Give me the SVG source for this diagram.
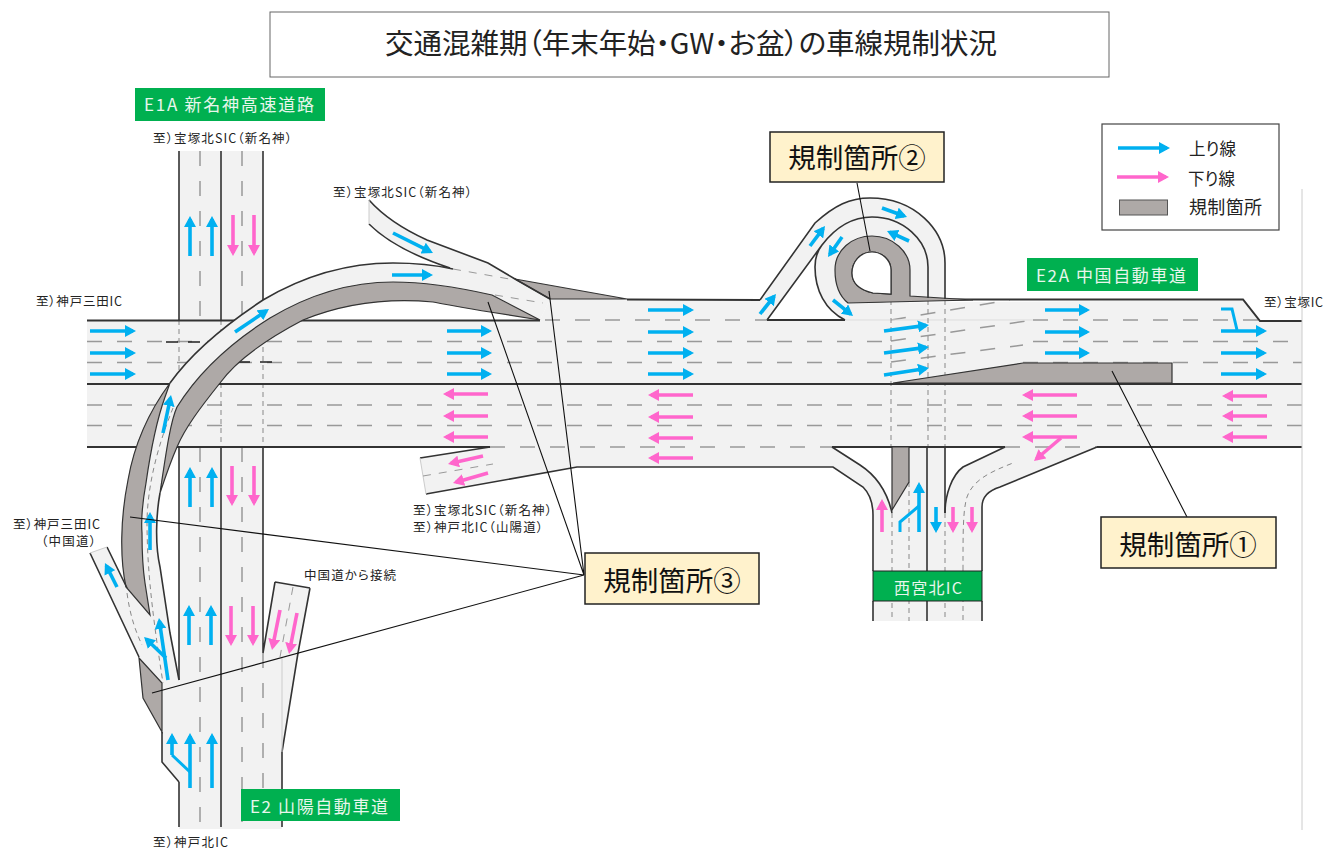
<svg xmlns="http://www.w3.org/2000/svg" width="1325" height="849" viewBox="0 0 1325 849">
<style>
text{font-family:"Noto Sans CJK JP","Noto Sans",sans-serif;fill:#222;font-feature-settings:"palt"}
.s{font-size:12.500px}
.g{font-size:17px;fill:#e8f6ec}
.k{font-size:27.500px;fill:#111;text-anchor:middle}
.rd{fill:#f2f2f2;stroke:none}
.e{fill:none;stroke:#333;stroke-width:1.6}
.m{fill:none;stroke:#333;stroke-width:2}
.d{fill:none;stroke:#999;stroke-width:1.5;stroke-dasharray:15 15}
.t{fill:none;stroke:#888;stroke-width:1;stroke-dasharray:5 4}
.b{fill:none;stroke:#222;stroke-width:1.5;stroke-dasharray:12 10}
.r{fill:#aea9a7;stroke:#333;stroke-width:1.2}
.c{fill:none;stroke:#00b0f0;stroke-width:3.6;marker-end:url(#hc)}
.p{fill:none;stroke:#ff66cc;stroke-width:3.6;marker-end:url(#hp)}
.cb{fill:none;stroke:#00b0f0;stroke-width:3}
.l{fill:none;stroke:#111;stroke-width:1.1}
.box{fill:#fff2cc;stroke:#222;stroke-width:1.5}
.gb{fill:#00b050}
</style>
<defs>
<marker id="hc" markerUnits="userSpaceOnUse" markerWidth="12" markerHeight="12" refX="8" refY="6" orient="auto"><path d="M0,0L11,6L0,12Z" fill="#00b0f0"/></marker>
<marker id="hp" markerUnits="userSpaceOnUse" markerWidth="12" markerHeight="12" refX="8" refY="6" orient="auto"><path d="M0,0L11,6L0,12Z" fill="#ff66cc"/></marker>
</defs>

<g id="road-base">
<rect class="rd" x="179" y="151" width="84" height="170"/>
<path class="rd" d="M179,447H263V653L275,582L310,588L298,653L282,752V829H179Z"/>
<path class="rd" d="M87,320H540L550,299H627L760,300L767,320H845L848,303L1243,300L1260,321H1302V447H87Z"/>
<path class="rd" d="M490,447L420,458L426,494L577,467H833L863,487C873,497 873,510 873,515V621H982V507C982,495 990,490 1000,487L1097,447H1005L963,467C952,475 945,495 945,513V447H892V513C888,495 880,478 860,465L832,447Z"/>

<path class="d" d="M87,341.500H891M87,362.500H891M1033,341.500H1302M1023,362.500H1302M87,405H1302M87,425.500H1302M545,320H767M1033,320H1260M490,447H832M1005,447H1097"/>
<path class="d" d="M891,320L1010,300M891,341L1033,320M891,362L1023,345"/>
<path fill="none" stroke="#ddd" stroke-width="1" d="M845,320H1033"/>
<path class="b" d="M166,342H207M238,362H282"/>
<path class="t" d="M179,320V447M221,320V447M263,320V447M891,300V447M928,300V447M945,300V447"/>

<path class="d" d="M200,151V320M242,151V320M200,447V829M242,447V829M263,653V829"/>
<path class="t" d="M892,513V621M909,482V621M945,513V621M963,570C963,530 963,510 967,497C973,480 990,472 1013,463M963,570V621"/>

<path class="e" d="M179,151V320M221,151V320M263,151V320M221,447V827M179,447V680M179,782V827M263,447V653M275,582L263,653M275,582L310,588M310,588L298,653L282,752V827M873,515V571M982,507V571M873,601V621M927,447V621M982,601V621M945,447V513"/>
<path class="m" d="M87,320.500H540M87,384H1302M87,447H490M832,447H1005M1097,447H1302M627,299.500L760,300M848,302L945,299.500H1243L1260,321H1302M767,320H845"/>
<path class="e" d="M490,447L420,458M426,494L577,467H833L863,487C873,497 873,510 873,515M832,447L860,465C880,478 888,495 892,513M1005,447L963,467C952,475 945,495 945,513M1097,447L1000,487C990,490 982,495 982,507"/>
<path fill="none" stroke="#ccc" stroke-width="1" d="M420,458L426,494M282,752V657M1302,189V830"/>
<path class="d" style="stroke-dasharray:8 8;stroke-width:1" d="M423,476L493,464M293,587L280,657"/>
</g>

<g id="restriction-lower">
<path class="r" d="M893,383L1023,363H1172V383Z"/>
<path class="r" d="M892,447H909V482L892,510Z"/>
</g>

<g id="ramp-west">
<path class="rd" d="M126,587L150,615L145,583C143,570 142,555 142,533C141,520 142,505 146,483C150,455 155,425 165,397L177,407C170,422 165,460 160,493C156,515 155,545 160,567L170,633L179,680V782L162,762V683L139,657L90,553L107,547L127,588Z"/>
<path class="rd" d="M170,383C190,355 225,325 263,300C305,275 350,263 393,263C415,263 435,265 453,269L450,268C420,258 390,245 369,224V200C385,218 405,230 427,240L488,263L515,279L550,299L540,320L492,295C470,290 430,282 393,282C345,282 305,297 270,318C235,340 200,370 177,407L165,397Z"/>
<path class="r" d="M170,383C150,410 135,440 128,480C120,520 120,560 126,587L150,615L145,583C143,570 142,555 142,533C141,520 142,505 146,483C150,455 155,425 165,397Z"/>
<path class="r" d="M540,320L492,295C470,290 430,282 393,282C345,282 305,297 270,318C235,340 200,370 177,407C170,422 165,460 160,493C165,478 170,463 177,447C185,428 200,408 220,383C235,362 265,340 303,320C345,303 390,298 433,302C455,306 470,309 490,312Z"/>
<path class="r" d="M515,279L627,299H550Z"/>
<path class="r" d="M139,658L162,683V732L143,698Z"/>
<path class="e" d="M170,383C190,355 225,325 263,300C305,275 350,263 393,263C415,263 435,265 453,269M369,224C390,245 420,258 450,268M369,200C385,218 405,230 427,240L488,263L515,279L550,299"/>
<path class="e" d="M90,553L139,657M107,547L127,588M160,493C156,515 155,545 160,567L170,633L179,680M162,732V762L179,782"/>
<path fill="none" stroke="#ccc" stroke-width="1" d="M90,553L107,547M369,200V224"/>
<path class="d" style="stroke-dasharray:8 8;stroke-width:1" d="M453,269L515,280M495,295L543,303"/>
<path class="t" d="M173,408C160,440 148,480 147,520C147,560 150,600 163,683M127,593C130,615 135,630 142,645"/>
</g>

<g id="ramp-loop">
<path class="rd" d="M760,300L815,223C835,205 850,198 870,198C915,198 945,230 945,263V300L848,303L845,320C825,310 815,290 815,267C815,258 818,250 822,245L767,320Z"/>
<path class="r" fill-rule="evenodd" d="M848,303C838,295 835,282 835,270C835,250 852,236 872,236C893,236 910,252 910,270V296L973,300ZM873,293C860,290 852,283 852,273C852,262 860,252 872,252C882,252 891,260 891,270V294Z"/>
<path d="M873,293C860,290 852,283 852,273C852,262 860,252 872,252C882,252 891,260 891,270V294Z" fill="#fff" stroke="#333" stroke-width="1.2"/>
<path class="e" d="M760,300L815,223C835,205 850,198 870,198C915,198 945,230 945,263V299M767,320L822,245C835,228 852,217 872,217C903,217 928,240 928,267V298M845,320C825,310 815,290 815,267C815,258 818,250 822,245"/>
</g>

<g id="arrows-up">
<path class="c" d="M90,331H133"/><path class="c" d="M90,353H133"/><path class="c" d="M90,374H133"/>
<path class="c" d="M447,331H489"/><path class="c" d="M447,353H489"/><path class="c" d="M447,374H489"/>
<path class="c" d="M648,310H691"/><path class="c" d="M648,332H691"/><path class="c" d="M648,353H691"/><path class="c" d="M648,374H691"/>
<path class="c" d="M884,331L926,325.400"/><path class="c" d="M884,353L926,347.400"/><path class="c" d="M884,375L926,368.500"/>
<path class="c" d="M1045,310H1087"/><path class="c" d="M1045,332H1087"/><path class="c" d="M1045,353H1087"/>
<path class="c" d="M1221,331H1264"/><path class="c" d="M1221,353H1264"/><path class="c" d="M1221,374H1264"/>
<path class="c" d="M190,256V219"/><path class="c" d="M212,256V219"/>
<path class="c" d="M190,507V470"/><path class="c" d="M212,507V470"/>
<path class="c" d="M189,645V608"/><path class="c" d="M211,645V608"/>
<path class="c" d="M190,788V736"/><path class="c" d="M212,788V736"/><path class="c" d="M172,755V736"/>
<path class="cb" d="M190,772L172,755"/><path class="cb" d="M1221,309H1232L1237,330"/>
<path class="c" d="M163,433L170.400,398"/><path class="c" d="M235,332L266.500,310.700"/><path class="c" d="M392,275H430"/><path class="c" d="M393,233L430.300,251.700"/>
<path class="c" d="M150,550V515"/><path class="c" d="M117,587L106.300,565.700"/><path class="c" d="M168,680L159.400,621"/><path class="c" d="M166,658L146.200,639"/>
<path class="c" d="M760,314L774.100,296.300"/><path class="c" d="M810,246L823.200,228.400"/><path class="c" d="M842,237L829.700,254.500"/><path class="c" d="M833,300L850.700,314.100"/><path class="c" d="M882,208L904.200,216"/><path class="c" d="M909,241L889.700,232.200"/>
<path class="c" d="M919,532V485"/><path class="c" d="M936,507V530"/>
<path class="cb" d="M900,532V522L919,506"/>
</g>

<g id="arrows-down">
<path class="p" d="M488,394H446"/><path class="p" d="M488,416H446"/><path class="p" d="M488,437H446"/>
<path class="p" d="M693,395H651"/><path class="p" d="M693,417H651"/><path class="p" d="M693,438H651"/><path class="p" d="M693,458H651"/>
<path class="p" d="M1077,395H1025"/><path class="p" d="M1077,416H1025"/><path class="p" d="M1077,437H1025"/>
<path class="p" d="M1267,396H1225"/><path class="p" d="M1267,416H1225"/><path class="p" d="M1267,437H1225"/>
<path class="p" d="M1061,438L1036.300,459"/><path class="p" d="M483,456L450.900,463.300"/><path class="p" d="M488,473L455.900,482.200"/>
<path class="p" d="M233,215V253"/><path class="p" d="M254,215V253"/><path class="p" d="M232,466V503"/><path class="p" d="M254,466V503"/><path class="p" d="M231,606V643"/><path class="p" d="M253,606V643"/>
<path class="p" d="M280,610L272.600,647"/><path class="p" d="M297,613L289.600,651"/>
<path class="p" d="M882,532V502"/><path class="p" d="M953,507V530"/><path class="p" d="M972,507V530"/>
</g>

<g id="title"><rect x="270" y="12" width="839" height="65" fill="#fff" stroke="#666" stroke-width="1"/>
<text x="385" y="54" font-size="28.500" textLength="612">交通混雑期（年末年始・GW・お盆）の車線規制状況</text></g>

<g id="legend"><rect x="1102" y="124" width="177" height="106" fill="#fff" stroke="#444" stroke-width="1.2"/>
<path class="c" d="M1118,148H1167"/><path class="p" d="M1117,177H1166"/>
<rect x="1119.500" y="200" width="48" height="15" fill="#aea9a7" stroke="#555"/>
<text x="1189" y="155" font-size="16.500" textLength="47">上り線</text>
<text x="1188" y="185" font-size="16.500" textLength="47">下り線</text>
<text x="1189" y="214" font-size="18" textLength="73">規制箇所</text></g>

<g id="label-e1a"><rect class="gb" x="135" y="88" width="190" height="33"/><text class="g" x="144" y="111" textLength="170">E1A 新名神高速道路</text></g>
<g id="label-e2a"><rect class="gb" x="1027" y="258" width="171" height="33"/><text class="g" x="1036" y="282" textLength="150">E2A 中国自動車道</text></g>
<g id="label-e2"><rect class="gb" x="241" y="789" width="159" height="32"/><text class="g" x="250" y="813" textLength="138">E2 山陽自動車道</text></g>
<g id="label-nishinomiya"><rect class="gb" x="873" y="571" width="109" height="30" stroke="#222" stroke-width="1"/><text class="g" x="894" y="594" style="font-size:16px" textLength="68">西宮北IC</text></g>

<g id="labels">
<text class="s" x="153" y="143" textLength="139">至）宝塚北SIC（新名神）</text>
<text class="s" x="333" y="197" textLength="139">至）宝塚北SIC（新名神）</text>
<text class="s" x="36" y="306" textLength="86">至）神戸三田IC</text>
<text class="s" x="1264" y="307" textLength="59">至）宝塚IC</text>
<text class="s" x="13" y="529" textLength="87">至）神戸三田IC</text>
<text class="s" x="41" y="546" textLength="55">（中国道）</text>
<text class="s" x="304" y="580" textLength="92">中国道から接続</text>
<text class="s" x="153" y="847" textLength="75">至）神戸北IC</text>
<text class="s" x="413" y="515" textLength="139">至）宝塚北SIC（新名神）</text>
<text class="s" x="413" y="532" textLength="130">至）神戸北IC（山陽道）</text>
</g>

<g id="connectors">
<path class="l" d="M857,183L870,251M1112,371L1187,517M584,575L130,517M584,575L152,693M584,575L488,302M584,575L549,291"/>
</g>

<g id="callout-2"><rect class="box" x="770" y="132" width="174" height="50"/><text class="k" x="857" y="168">規制箇所②</text></g>
<g id="callout-1"><rect class="box" x="1101" y="517" width="175" height="51"/><text class="k" x="1188" y="555">規制箇所①</text></g>
<g id="callout-3"><rect class="box" x="585" y="553" width="174" height="51"/><text class="k" x="672" y="591">規制箇所③</text></g>
</svg>
